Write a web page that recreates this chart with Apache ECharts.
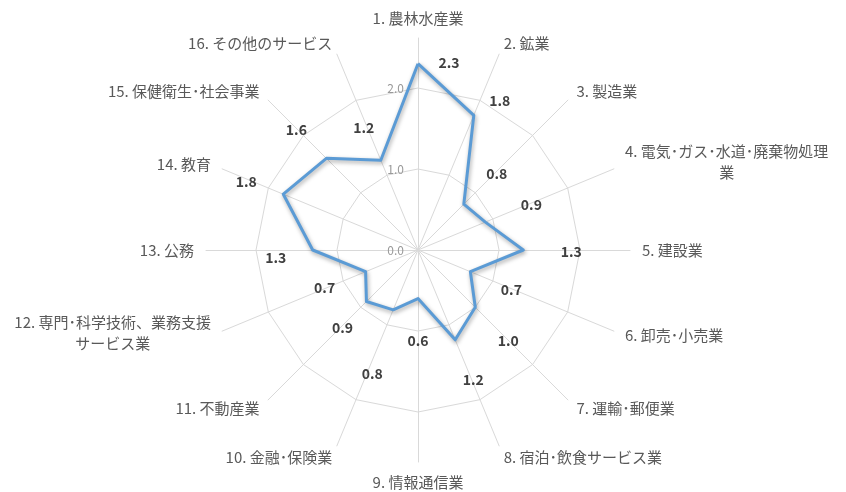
<!DOCTYPE html>
<html>
<head>
<meta charset="utf-8">
<script src="https://cdn.jsdelivr.net/npm/echarts@6/dist/echarts.min.js"></script>
<style>
  html, body { margin: 0; padding: 0; background: #fff; }
  .main { width: 846px; height: 492px; }
</style>
</head>
<body>
<div id="main" class="main"></div>
<script>
// 業種名
var industries = [
  "1. 農林水産業", "2. 鉱業", "3. 製造業", "4. 電気･ガス･水道･廃棄物処理\n{c|業}",
  "5. 建設業", "6. 卸売･小売業", "7. 運輸･郵便業", "8. 宿泊･飲食サービス業",
  "9. 情報通信業", "10. 金融･保険業", "11. 不動産業", "12. 専門･科学技術、業務支援\n{c|サービス業}",
  "13. 公務", "14. 教育", "15. 保健衛生･社会事業", "16. その他のサービス"
];
var values = [2.3, 1.8, 0.8, 0.9, 1.3, 0.7, 1.0, 1.2, 0.6, 0.8, 0.9, 0.7, 1.3, 1.8, 1.6, 1.2];
var tickMax = 2;
var tickStep = 1;

// data label offsets (px) from each vertex
var labelOffsets = [
  [31, -1], [26, -15], [33, -30], [46, -17], [48, 2], [41, 18], [33, 33], [18, 40],
  [0, 42], [-21, 64], [-24, 26], [-41, 16], [-37, 8], [-37, -13], [-30, -29], [-17, -33]
];

// echarts radar runs counter-clockwise, so reverse the order after the first axis
var order = [0];
for (var k = industries.length - 1; k > 0; k--) order.push(k);
var axisNames = order.map(function (k) { return industries[k]; });
var axisValues = order.map(function (k) { return values[k]; });

var font = "Noto Sans CJK JP";
var chartDom = document.getElementById("main");
var myChart = echarts.init(chartDom);
var option;

var labelSeries = industries.map(function (n, i) {
  var dim = order.indexOf(i);
  return {
    type: "radar",
    radarIndex: 1,
    silent: true,
    symbol: "circle",
    symbolSize: 1,
    itemStyle: { color: "rgba(0,0,0,0)" },
    lineStyle: { width: 0, opacity: 0 },
    label: {
      show: true,
      position: "inside",
      offset: labelOffsets[i],
      color: "#404040",
      fontWeight: "bold",
      fontSize: 14,
      fontFamily: font,
      formatter: function (p) {
        return p.dimensionIndex === dim ? Number(p.value).toFixed(1) : "";
      },
    },
    data: [{ value: axisValues }],
  };
});

option = {
  backgroundColor: "#fff",
  animation: false,
  radar: [
    {
      // spokes and names
      center: [418, 250],
      radius: 212,
      startAngle: 90,
      shape: "polygon",
      splitNumber: 1,
      indicator: axisNames.map(function (n) {
        return { name: n, min: 0, max: 1 };
      }),
      nameGap: 12,
      axisName: {
        color: "#595959",
        fontSize: 15,
        fontFamily: font,
        lineHeight: 16,
        rich: { c: { align: "center", color: "#595959", fontSize: 15, fontFamily: font, lineHeight: 26 } },
      },
      splitLine: { show: false },
      splitArea: { show: false },
      axisLine: { lineStyle: { color: "#d9d9d9", width: 1 } },
      axisTick: { show: false },
      axisLabel: { show: false },
    },
    {
      // grid rings and value axis
      center: [418, 250],
      radius: 162,
      startAngle: 90,
      shape: "polygon",
      splitNumber: tickMax / tickStep,
      indicator: axisNames.map(function (n, i) {
        var ind = { name: "", min: 0, max: tickMax };
        if (i === 0) {
          ind.axisLabel = {
            show: true,
            color: "#999999",
            fontSize: 12,
            fontFamily: font,
            margin: 14,
            formatter: function (v) {
              return Number(v).toFixed(1);
            },
          };
        }
        return ind;
      }),
      axisName: { show: false },
      splitLine: { lineStyle: { color: "#d9d9d9", width: 1 } },
      splitArea: { show: false },
      axisLine: { show: false },
      axisTick: { show: false },
      axisLabel: { show: false },
    },
  ],
  series: [
    {
      type: "radar",
      radarIndex: 1,
      silent: true,
      symbol: "none",
      lineStyle: {
        color: "#5b9bd5",
        width: 3,
        shadowBlur: 4,
        shadowColor: "rgba(0,0,0,0.35)",
        shadowOffsetX: 1,
        shadowOffsetY: 2,
      },
      data: [{ value: axisValues }],
    },
  ].concat(labelSeries),
};

option && myChart.setOption(option);
</script>
</body>
</html>
